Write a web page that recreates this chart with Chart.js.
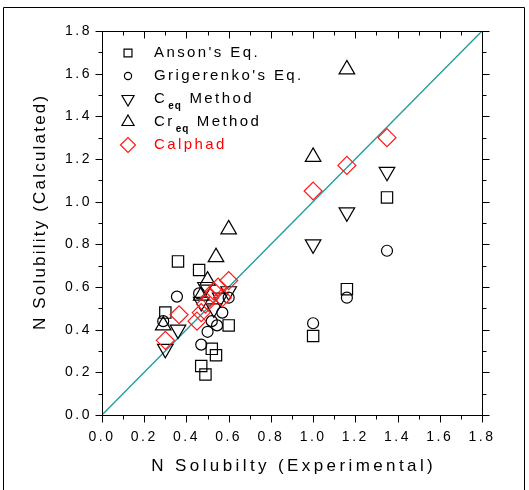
<!DOCTYPE html>
<html><head><meta charset="utf-8">
<script src="https://cdn.jsdelivr.net/npm/chart.js@4"></script>
<style>html,body{margin:0;padding:0;background:#fff}#wrap{width:529px;height:490px;position:relative}</style>
</head><body><div id="wrap"><canvas id="c" width="529" height="490"></canvas></div>
<script>
// ---- data ----
const xTicks = [0.0, 0.2, 0.4, 0.6, 0.8, 1.0, 1.2, 1.4, 1.6, 1.8];
const yTicks = [0.0, 0.2, 0.4, 0.6, 0.8, 1.0, 1.2, 1.4, 1.6, 1.8];
const xTitle = 'N Solubilty (Experimental)';
const yTitle = 'N Solubility (Calculated)';
const legendLabels = ["Anson's Eq.", "Grigerenko's Eq.", "C_eq Method", "Cr_eq Method", "Calphad"];

const ansonX = [0.30, 0.36, 0.46, 0.47, 0.49, 0.52, 0.54, 0.60, 1.00, 1.16, 1.35];
const ansonY = [0.48, 0.72, 0.68, 0.23, 0.19, 0.31, 0.28, 0.42, 0.37, 0.59, 1.02];

const grigX = [0.29, 0.355, 0.46, 0.47, 0.50, 0.52, 0.545, 0.57, 0.60, 1.00, 1.16, 1.35];
const grigY = [0.44, 0.555, 0.57, 0.33, 0.39, 0.44, 0.42, 0.48, 0.55, 0.43, 0.55, 0.77];

const ceqX = [0.30, 0.36, 0.47, 0.49, 0.53, 0.56, 0.60, 1.00, 1.16, 1.35];
const ceqY = [0.31, 0.40, 0.53, 0.60, 0.50, 0.55, 0.58, 0.80, 0.95, 1.14];

const creqX = [0.29, 0.47, 0.50, 0.54, 0.60, 1.00, 1.16];
const creqY = [0.42, 0.56, 0.63, 0.74, 0.87, 1.21, 1.62];

const calX = [0.30, 0.365, 0.45, 0.47, 0.49, 0.51, 0.53, 0.55, 0.57, 0.60, 1.00, 1.16, 1.35];
const calY = [0.35, 0.47, 0.44, 0.48, 0.52, 0.55, 0.58, 0.60, 0.55, 0.63, 1.05, 1.17, 1.30];

const diagX = [0.0, 1.8];
const diagY = [0.0, 1.8];

const toPts = (xs, ys) => xs.map((x, i) => ({x: x, y: ys[i]}));
const plain = s => s.replace('_', '');

const FONT = 'Arial, "Liberation Sans", sans-serif';

const frame = {
  id: 'frame',
  beforeDraw(chart) { chart.ctx.letterSpacing = '2.5px'; },
  afterDraw(chart) {
    const ctx = chart.ctx, a = chart.chartArea, sx = chart.scales.x, sy = chart.scales.y;
    ctx.save();
    ctx.letterSpacing = '0px';
    ctx.strokeStyle = '#000';
    ctx.lineWidth = 1;
    // outer frame
    ctx.beginPath();
    ctx.moveTo(3.5, 500); ctx.lineTo(3.5, 7.5); ctx.lineTo(524.5, 7.5); ctx.lineTo(524.5, 500);
    ctx.stroke();
    // plot box
    const L = Math.round(a.left) + 0.5, R = Math.round(a.right) + 0.5, T = Math.round(a.top) + 0.5, B = Math.round(a.bottom) + 0.5;
    ctx.strokeRect(L, T, R - L, B - T);
    ctx.beginPath();
    for (let k = 0; k <= 18; k++) {
      const v = k / 10, major = k % 2 === 0;
      const px = Math.round(sx.getPixelForValue(v)) + 0.5;
      const py = Math.round(sy.getPixelForValue(v)) + 0.5;
      const len = major ? 7 : 4;
      ctx.moveTo(px, B); ctx.lineTo(px, B + len);
      ctx.moveTo(px, T); ctx.lineTo(px, T + len);
      ctx.moveTo(L - len, py); ctx.lineTo(L, py);
      ctx.moveTo(R, py); ctx.lineTo(R + len, py);
    }
    ctx.stroke();

    // axis titles
    ctx.fillStyle = '#000';
    ctx.textBaseline = 'middle';
    ctx.textAlign = 'left';
    ctx.font = '17px ' + FONT;
    let sp = 3.4;
    ctx.letterSpacing = sp + 'px';
    let w = ctx.measureText(xTitle).width - sp;
    ctx.fillText(xTitle, (a.left + a.right) / 2 - w / 2, 466);
    sp = 2.2;
    ctx.letterSpacing = sp + 'px';
    w = ctx.measureText(yTitle).width - sp;
    ctx.save();
    ctx.translate(40, (a.top + a.bottom) / 2 - 10);
    ctx.rotate(-Math.PI / 2);
    ctx.fillText(yTitle, -w / 2, 0);
    ctx.restore();

    // legend
    const symR = [5.6, 3.6, 7, 7, 7.5];
    legendLabels.forEach((lab, i) => {
      const ds = chart.data.datasets[i];
      const yy = a.top + 22 + i * 23;
      ctx.fillStyle = 'rgba(0,0,0,0)';
      ctx.strokeStyle = ds.borderColor; ctx.lineWidth = 1.2;
      Chart.helpers.drawPoint(ctx, {
        pointStyle: ds.pointStyle, rotation: ds.rotation || 0, radius: symR[i], borderWidth: 1.2
      }, 128, yy);
      ctx.fillStyle = i === 4 ? '#ff0000' : '#000';
      let x = 154;
      const parts = lab.split('_');
      parts.forEach((p, j) => {
        if (j === 0) {
          ctx.font = '15px ' + FONT; ctx.letterSpacing = '2.4px';
          ctx.fillText(p, x, yy); x += ctx.measureText(p).width;
        } else {
          const sub = p.slice(0, 2), rest = p.slice(2);
          ctx.font = 'bold 10px ' + FONT; ctx.letterSpacing = '1px';
          ctx.fillText(sub, x + 1, yy + 7); x += ctx.measureText(sub).width + 2;
          ctx.font = '15px ' + FONT; ctx.letterSpacing = '2.4px';
          ctx.fillText(rest, x, yy); x += ctx.measureText(rest).width;
        }
      });
    });
    ctx.restore();
    ctx.letterSpacing = '0px';
  }
};

const mk = (i, xs, ys, style, color, r, rot) => ({
  type: 'scatter', label: plain(legendLabels[i]), data: toPts(xs, ys),
  pointStyle: style, rotation: rot || 0, pointRotation: rot || 0,
  pointRadius: r, pointHoverRadius: r, borderColor: color, pointBorderColor: color,
  backgroundColor: 'rgba(0,0,0,0)', pointBackgroundColor: 'rgba(0,0,0,0)',
  pointBorderWidth: 1.2, order: 4 - i
});

new Chart(document.getElementById('c'), {
  type: 'scatter',
  data: {
    datasets: [
      mk(0, ansonX, ansonY, 'rect', '#000', 8),
      mk(1, grigX, grigY, 'circle', '#000', 5.5),
      mk(2, ceqX, ceqY, 'triangle', '#000', 9, 180),
      mk(3, creqX, creqY, 'triangle', '#000', 9),
      mk(4, calX, calY, 'rectRot', '#ff1a1a', 9),
      { type: 'line', label: 'y = x', data: toPts(diagX, diagY), borderColor: '#1f9a9a',
        borderWidth: 1.3, pointRadius: 0, fill: false, order: 10 }
    ]
  },
  options: {
    responsive: false, animation: false, devicePixelRatio: 1,
    layout: { padding: { left: 0, right: 47, top: 31, bottom: 0 } },
    plugins: { legend: { display: false }, tooltip: { enabled: false } },
    scales: {
      x: {
        type: 'linear', min: 0, max: 1.8,
        afterBuildTicks: s => { s.ticks = xTicks.map(v => ({ value: v })); },
        afterFit: s => { s.height = 75; },
        ticks: { callback: v => v.toFixed(1), font: { family: FONT, size: 14 }, color: '#000', padding: 14, maxRotation: 0, autoSkip: false },
        grid: { display: false, drawTicks: false }, border: { display: false }
      },
      y: {
        type: 'linear', min: 0, max: 1.8,
        afterBuildTicks: s => { s.ticks = yTicks.map(v => ({ value: v })); },
        afterFit: s => { s.width = 102; },
        ticks: { callback: v => v.toFixed(1), font: { family: FONT, size: 14 }, color: '#000', padding: 10, autoSkip: false },
        grid: { display: false, drawTicks: false }, border: { display: false }
      }
    }
  },
  plugins: [frame]
});
</script></body></html>
